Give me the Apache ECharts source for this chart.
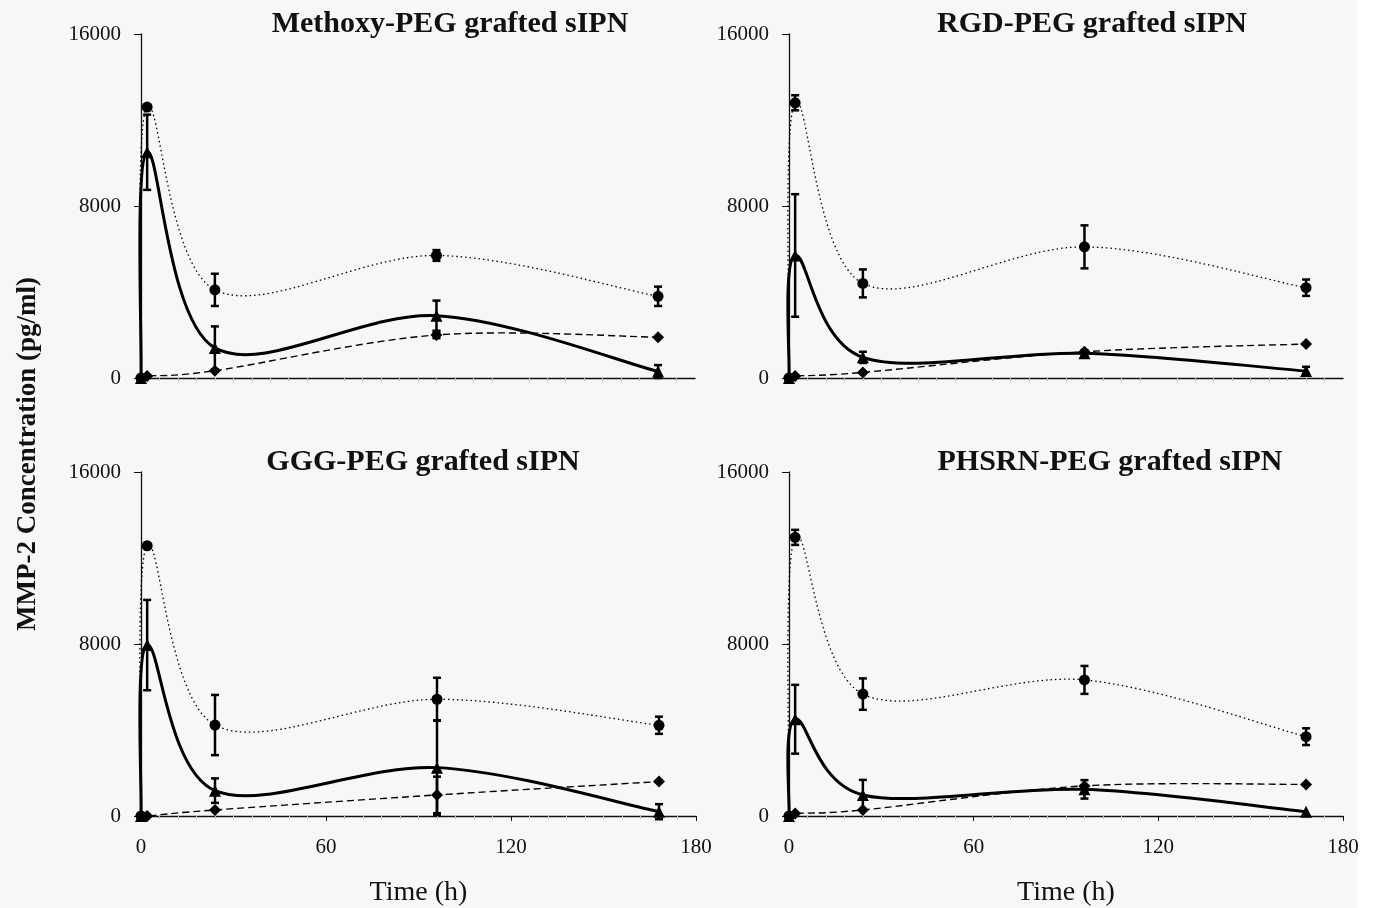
<!DOCTYPE html>
<html>
<head>
<meta charset="utf-8">
<script src="https://cdn.jsdelivr.net/npm/echarts@6/dist/echarts.min.js"></script>
<style>
  html, body { margin: 0; padding: 0; background: #f7f7f7; }
  #main { width: 1376px; height: 908px; }
</style>
</head>
<body>
<div id="main"></div>
<script>
// sampling times (h)
const times = [0, 2, 24, 96, 168];

// Methoxy-PEG grafted sIPN
const methoxyCircle = [0, 12600, 4100, 5700, 3800];
const methoxyCircleErr = [0, 0, 750, 250, 450];
const methoxyTriangle = [0, 10500, 1400, 2900, 300];
const methoxyTriangleErr = [0, 1750, 1000, 700, 300];
const methoxyDiamond = [0, 90, 340, 2000, 1900];
const methoxyDiamondErr = [0, 0, 0, 150, 0];

// RGD-PEG grafted sIPN
const rgdCircle = [0, 12800, 4400, 6100, 4200];
const rgdCircleErr = [0, 350, 650, 1000, 380];
const rgdTriangle = [0, 5700, 960, 1150, 320];
const rgdTriangleErr = [0, 2850, 260, 150, 200];
const rgdDiamond = [0, 90, 260, 1220, 1580];
const rgdDiamondErr = [0, 0, 0, 0, 0];

// GGG-PEG grafted sIPN
const gggCircle = [0, 12570, 4230, 5430, 4220];
const gggCircleErr = [0, 0, 1400, 1000, 400];
const gggTriangle = [0, 7950, 1180, 2250, 200];
const gggTriangleErr = [0, 2100, 570, 2200, 350];
const gggDiamond = [0, 0, 280, 980, 1600];
const gggDiamondErr = [0, 0, 0, 850, 0];

// PHSRN-PEG grafted sIPN
const phsrnCircle = [0, 12960, 5670, 6330, 3690];
const phsrnCircleErr = [0, 350, 730, 650, 390];
const phsrnTriangle = [0, 4500, 980, 1240, 200];
const phsrnTriangleErr = [0, 1600, 700, 430, 0];
const phsrnDiamond = [0, 120, 280, 1400, 1470];
const phsrnDiamondErr = [0, 0, 0, 0, 0];

const yTicks = [0, 8000, 16000];
const xTicks = [0, 60, 120, 180];

const panels = [
  { title: 'Methoxy-PEG grafted sIPN', left: 141, top: 34, width: 554, bottom: false, titleX: 445,
    sets: [[methoxyCircle, methoxyCircleErr], [methoxyTriangle, methoxyTriangleErr], [methoxyDiamond, methoxyDiamondErr]] },
  { title: 'RGD-PEG grafted sIPN', left: 789, top: 34, width: 554, bottom: false, titleX: 1087,
    sets: [[rgdCircle, rgdCircleErr], [rgdTriangle, rgdTriangleErr], [rgdDiamond, rgdDiamondErr]] },
  { title: 'GGG-PEG grafted sIPN', left: 141, top: 472, width: 555, bottom: true, titleX: 418,
    sets: [[gggCircle, gggCircleErr], [gggTriangle, gggTriangleErr], [gggDiamond, gggDiamondErr]] },
  { title: 'PHSRN-PEG grafted sIPN', left: 789, top: 472, width: 554, bottom: true, titleX: 1105,
    sets: [[phsrnCircle, phsrnCircleErr], [phsrnTriangle, phsrnTriangleErr], [phsrnDiamond, phsrnDiamondErr]] }
];

const font = 'Liberation Serif';
const styles = [
  { symbol: 'circle', size: 11, width: 1.3, dash: [1.5, 3] },
  { symbol: 'triangle', size: 12, width: 3, dash: null },
  { symbol: 'diamond', size: 12, width: 1.4, dash: [7, 4] }
];

// smooth curve drawn like a spreadsheet (Catmull-Rom through the data points, in pixel space)
function curveItem(st) {
  return function (params, api) {
    if (params.dataIndexInside !== 0) return null;
    const n = times.length;
    const pts = [];
    for (let j = 0; j < n; j++) pts.push(api.coord([api.value(0, j), api.value(1, j)]));
    let d = 'M' + pts[0][0] + ' ' + pts[0][1];
    for (let j = 0; j < n - 1; j++) {
      const p0 = pts[Math.max(j - 1, 0)], p1 = pts[j], p2 = pts[j + 1], p3 = pts[Math.min(j + 2, n - 1)];
      const c1x = p1[0] + (p2[0] - p0[0]) / 6, c1y = p1[1] + (p2[1] - p0[1]) / 6;
      const c2x = p2[0] - (p3[0] - p1[0]) / 6, c2y = p2[1] - (p3[1] - p1[1]) / 6;
      d += ' C' + c1x + ' ' + c1y + ' ' + c2x + ' ' + c2y + ' ' + p2[0] + ' ' + p2[1];
    }
    return {
      type: 'path',
      shape: { pathData: d },
      style: { fill: 'none', stroke: '#000', lineWidth: st.width, lineDash: st.dash }
    };
  };
}

function errorItem(params, api) {
  const x = api.value(0), y = api.value(1), e = api.value(2);
  const hi = api.coord([x, y + e]), lo = api.coord([x, y - e]);
  const w = 4;
  const st = { stroke: '#000', lineWidth: 2.5 };
  return {
    type: 'group',
    children: [
      { type: 'line', shape: { x1: hi[0], y1: hi[1], x2: lo[0], y2: lo[1] }, style: st },
      { type: 'line', shape: { x1: hi[0] - w, y1: hi[1], x2: hi[0] + w, y2: hi[1] }, style: st },
      { type: 'line', shape: { x1: lo[0] - w, y1: lo[1], x2: lo[0] + w, y2: lo[1] }, style: st }
    ]
  };
}

const grid = [], xAxis = [], yAxis = [], series = [], title = [];

panels.forEach(function (p, i) {
  grid.push({ left: p.left, top: p.top, width: p.width, height: 344 });
  title.push({
    text: p.title, left: p.titleX, top: p.top - 30, textAlign: 'center',
    textStyle: { fontFamily: font, fontWeight: 'bold', fontSize: 30, color: '#111' }
  });
  xAxis.push({
    type: 'value', gridIndex: i, min: xTicks[0], max: xTicks[xTicks.length - 1], interval: 60,
    name: p.bottom ? 'Time (h)' : '', nameLocation: 'middle', nameGap: 63,
    nameTextStyle: { fontFamily: font, fontSize: 28, color: '#111' },
    axisLine: { lineStyle: { color: '#111', width: 1.3 } },
    axisTick: { show: p.bottom, length: 5, lineStyle: { color: '#111' } },
    minorTick: { show: true, splitNumber: 10, length: 3, lineStyle: { color: '#c4c4c4' } },
    axisLabel: { show: p.bottom, margin: 21, fontFamily: font, fontSize: 21, color: '#111' },
    splitLine: { show: false }
  });
  yAxis.push({
    type: 'value', gridIndex: i, min: yTicks[0], max: yTicks[yTicks.length - 1], interval: 8000,
    axisLine: { show: true, lineStyle: { color: '#111', width: 1.3 } },
    axisTick: { show: true, length: 7, lineStyle: { color: '#111' } },
    axisLabel: { margin: 20, fontFamily: font, fontSize: 21, color: '#111', formatter: function (v) { return String(v); } },
    splitLine: { show: false }
  });
  p.sets.forEach(function (set, k) {
    const vals = set[0], errs = set[1], st = styles[k];
    const pts = times.map(function (t, j) { return [t, vals[j]]; });
    series.push({
      type: 'custom', xAxisIndex: i, yAxisIndex: i,
      data: pts, renderItem: curveItem(st), z: 2
    });
    series.push({
      type: 'custom', xAxisIndex: i, yAxisIndex: i,
      data: times.map(function (t, j) { return [t, vals[j], errs[j]]; }).filter(function (d) { return d[2] > 0; }),
      renderItem: errorItem, z: 3
    });
    series.push({
      type: 'scatter', xAxisIndex: i, yAxisIndex: i,
      symbol: st.symbol, symbolSize: st.size,
      itemStyle: { color: '#000', opacity: 1 },
      data: pts, z: 4
    });
  });
});

const myChart = echarts.init(document.getElementById('main'));
myChart.setOption({
  animation: false,
  backgroundColor: '#f7f7f7',
  title: title,
  grid: grid,
  xAxis: xAxis,
  yAxis: yAxis,
  series: series,
  graphic: [
    {
      type: 'text', left: 15, top: 'middle', rotation: Math.PI / 2,
      style: { text: 'MMP-2 Concentration (pg/ml)', fontFamily: font, fontWeight: 'bold', fontSize: 27, fill: '#111' }
    },
    { type: 'rect', right: 0, top: 0, shape: { width: 18, height: 908 }, style: { fill: '#fff' } }
  ]
});
</script>
</body>
</html>
